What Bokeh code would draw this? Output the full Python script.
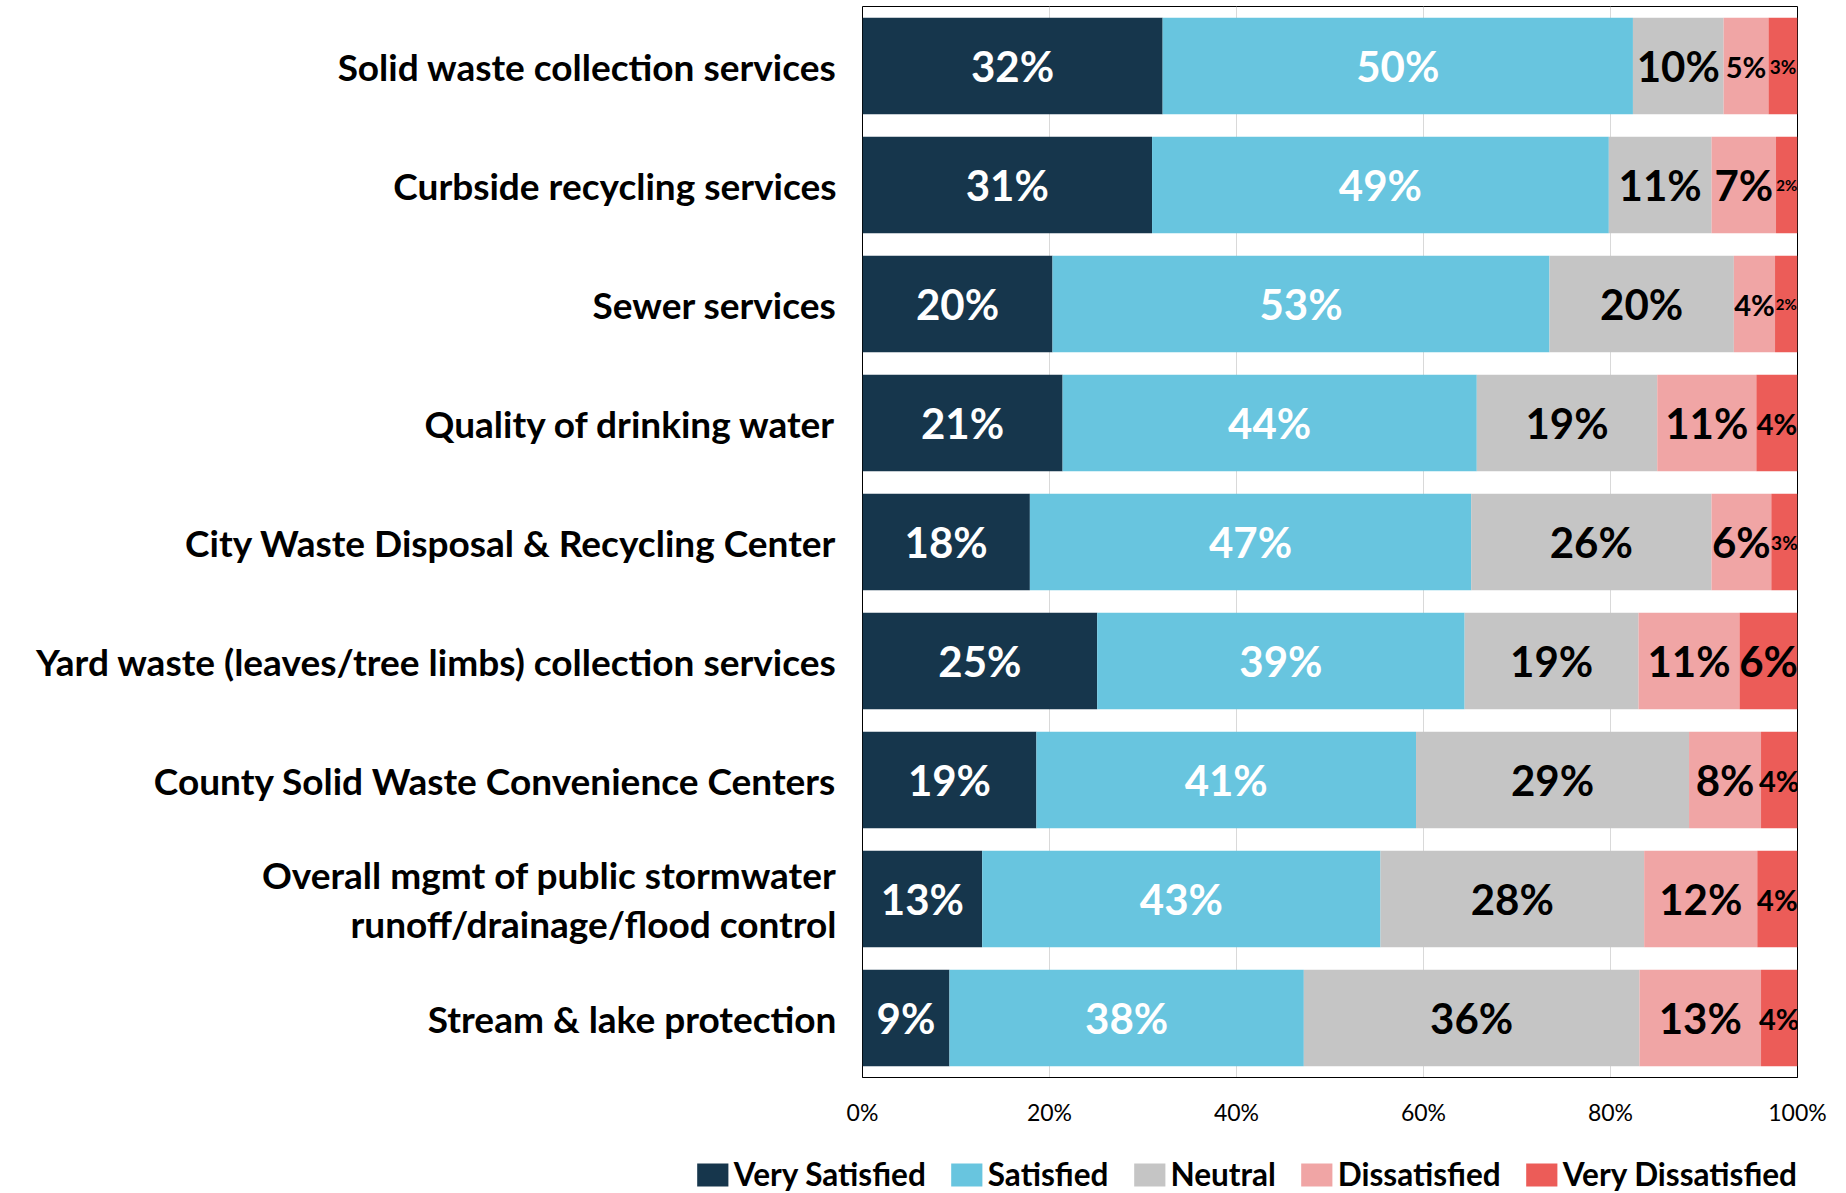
from bokeh.plotting import figure
from bokeh.layouts import column
from bokeh.models import (ColumnDataSource, FactorRange, Range1d, Legend, LegendItem,
                          FixedTicker, CustomJSTickFormatter)
from bokeh.core.properties import value
from bokeh.embed import file_html
from bokeh.resources import INLINE

categories = [
    "Solid waste collection services",
    "Curbside recycling services",
    "Sewer services",
    "Quality of drinking water",
    "City Waste Disposal & Recycling Center",
    "Yard waste (leaves/tree limbs) collection services",
    "County Solid Waste Convenience Centers",
    "Overall mgmt of public stormwater\nrunoff/drainage/flood control",
    "Stream & lake protection",
]

series_names = ["Very Satisfied", "Satisfied", "Neutral", "Dissatisfied", "Very Dissatisfied"]

very_satisfied = [32.1, 31.0, 20.3, 21.4, 17.9, 25.1, 18.6, 12.8, 9.3]
satisfied = [50.3, 48.9, 53.1, 44.3, 47.2, 39.3, 40.6, 42.6, 37.9]
neutral = [9.7, 11.0, 19.7, 19.3, 25.7, 18.6, 29.2, 28.2, 35.9]
dissatisfied = [4.8, 6.9, 4.4, 10.6, 6.4, 10.8, 7.7, 12.1, 13.0]
very_dissatisfied = [3.1, 2.3, 2.4, 4.4, 2.8, 6.2, 3.9, 4.3, 3.9]

x_ticks = [0, 20, 40, 60, 80, 100]

colors = ["#16364C", "#68C5DF", "#C5C5C5", "#F0A5A5", "#EC5C58"]
text_colors = ["white", "white", "black", "black", "black"]

FONT = "Lato"

series = [very_satisfied, satisfied, neutral, dissatisfied, very_dissatisfied]

y_range = FactorRange(*reversed(categories))

MAIN_H = 1155
p = figure(
    width=1846, height=MAIN_H,
    y_range=y_range,
    x_range=Range1d(0, 100),
    output_backend="svg", toolbar_location=None,
    min_border_left=862, min_border_right=49, min_border_top=6, min_border_bottom=MAIN_H - 1077,
)

totals = [sum(s[i] for s in series) for i in range(len(categories))]


def label_size(v):
    r = int(v + 0.5)
    if r >= 6:
        return "42px"
    if r >= 4:
        return "29px"
    if r == 3:
        return "19px"
    return "15px"


sources = []
left = [0.0] * len(categories)
for k, (name, vals) in enumerate(zip(series_names, series)):
    norm = [v / t * 100 for v, t in zip(vals, totals)]
    right = [l + n for l, n in zip(left, norm)]
    src = ColumnDataSource(dict(
        cat=categories, left=list(left), right=right,
        mid=[(l + r) / 2 for l, r in zip(left, right)],
        label=[f"{int(v + 0.5)}%" for v in vals],
        size=[label_size(v) for v in vals],
    ))
    sources.append(src)
    p.hbar(y="cat", left="left", right="right", height=0.81, source=src,
           fill_color=colors[k], line_color=None)
    p.text(x="mid", y="cat", text="label", source=src, text_color=text_colors[k],
           text_font=value(FONT), text_font_style="bold", text_font_size="size",
           text_align="center", text_baseline="middle")
    left = right

# axes
p.xaxis.ticker = FixedTicker(ticks=x_ticks)
p.xaxis.formatter = CustomJSTickFormatter(code="return tick + '%';")
p.xaxis.major_label_text_font = FONT
p.xaxis.major_label_text_font_size = "23px"
p.xaxis.major_label_text_color = "black"
p.xaxis.major_tick_line_color = None
p.xaxis.minor_tick_line_color = None
p.xaxis.major_tick_out = 0
p.xaxis.major_label_standoff = 20
p.xaxis.axis_line_color = "black"

p.yaxis.major_label_text_font = FONT
p.yaxis.major_label_text_font_style = "bold"
p.yaxis.major_label_text_font_size = "37px"
p.yaxis.major_label_text_color = "black"
p.yaxis.major_label_text_line_height = 1.07
p.yaxis.major_tick_line_color = None
p.yaxis.major_tick_out = 0
p.yaxis.major_label_standoff = 26
p.yaxis.axis_line_color = None

p.xgrid.ticker = FixedTicker(ticks=x_ticks)
p.xgrid.grid_line_color = "#D9D9D9"
p.ygrid.grid_line_color = None

p.outline_line_color = "black"
p.outline_line_width = 1
p.background_fill_color = "white"
p.border_fill_color = "white"

# legend strip below the chart (its own bars fall outside its x range)
lg = figure(
    width=1846, height=1193 - MAIN_H, x_range=Range1d(-200, -100), y_range=y_range,
    output_backend="svg", toolbar_location=None,
    min_border_left=862, min_border_right=49, min_border_top=0, min_border_bottom=0,
)
lg.axis.visible = False
lg.grid.visible = False
lg.outline_line_color = None
lg.background_fill_color = "white"
lg.border_fill_color = "white"

items = []
for name, c, src in zip(series_names, colors, sources):
    r = lg.hbar(y="cat", left="left", right="right", height=0.81, source=src,
                fill_color=c, line_color=None)
    items.append(LegendItem(label=name, renderers=[r]))

legend = Legend(
    items=items, location="top_right", orientation="horizontal",
    glyph_width=39, glyph_height=29, label_standoff=2, spacing=21,
    padding=0, margin=0, border_line_color=None, background_fill_alpha=0,
    label_text_font=FONT, label_text_font_style="bold", label_text_font_size="31.5px",
    label_text_color="black", label_height=29, label_text_line_height=0.8,
)
lg.add_layout(legend, "above")

layout = column(p, lg, spacing=0)
open("out.html", "w").write(file_html(layout, INLINE))
